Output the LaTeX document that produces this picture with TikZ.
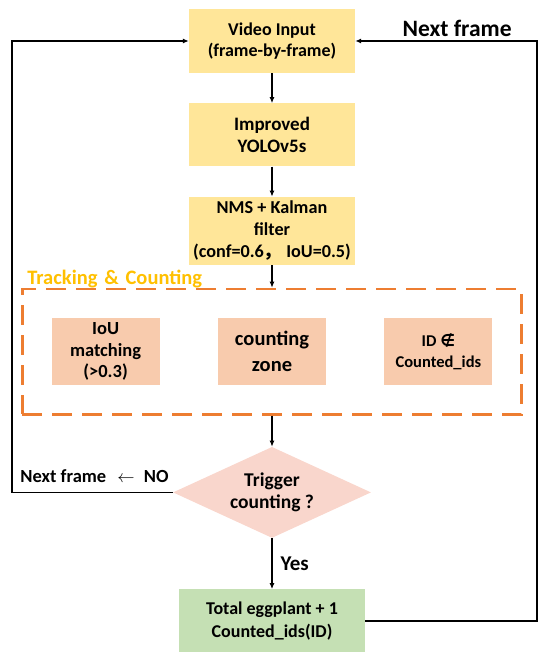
\documentclass[tikz,border=0pt]{standalone}
\usepackage{fontspec}
\setmainfont{Carlito}
\newfontfamily\cjkfont{Noto Sans CJK SC}
\newfontfamily\symbfont{DejaVu Sans}
\usepackage{xcolor}
\definecolor{egyellow}{HTML}{FFE699}
\definecolor{egpeach}{HTML}{F8CBAD}
\definecolor{egpink}{HTML}{F9D6CC}
\definecolor{eggreen}{HTML}{C5E0B4}
\definecolor{egorange}{HTML}{ED7D31}
\definecolor{eggold}{HTML}{FFC000}
\usepackage{tikz}
\usetikzlibrary{arrows.meta,positioning,shapes.geometric,fit}

\begin{document}
\begin{tikzpicture}[x=1pt, y=-1pt,
  block/.style={fill=egyellow, minimum width=166pt, minimum height=64pt,
                inner sep=2pt, align=center,
                font=\bfseries\fontsize{18}{21}\selectfont},
  subblock/.style={block, fill=egpeach, minimum width=108pt, minimum height=67pt},
  decide/.style={diamond, aspect=2.2, fill=egpink, minimum width=198pt,
                 minimum height=91pt, inner sep=0pt, align=center,
                 font=\bfseries\fontsize{19.5}{22}\selectfont},
  result/.style={block, fill=eggreen, minimum width=186pt, minimum height=63pt,
                 font=\bfseries\fontsize{18}{22.5}\selectfont},
  arr/.style={-{Latex[length=6pt,width=5pt]}, line width=1.1pt},
  back/.style={arr, line width=1.6pt},
  trackbox/.style={draw=egorange, line width=2.6pt, dash pattern=on 20pt off 10pt,
                   inner sep=29pt},
  lbl/.style={font=\bfseries\fontsize{18.5}{21}\selectfont},
  node distance=30pt and 58pt
]
  \useasboundingbox (0,0) rectangle (550,655);

  % main column
  \node[block] (video) at (272,41) {Video Input\\(frame-by-frame)};
  \node[block, below=of video, minimum height=63pt,
        font=\bfseries\fontsize{19}{22}\selectfont] (yolo) {Improved\\YOLOv5s};
  \node[block, below=of yolo, minimum height=68pt,
        font=\bfseries\fontsize{18.2}{22}\selectfont] (nms)
        {NMS + Kalman\\filter\\(conf=0.6{\cjkfont ，}\ IoU=0.5)};

  % tracking & counting group
  \node[subblock, below=53pt of nms, font=\bfseries\fontsize{20.5}{26}\selectfont] (zone)
        {counting\\zone};
  \node[subblock, left=of zone, font=\bfseries\fontsize{18.5}{21.5}\selectfont] (iou)
        {IoU\\matching\\(>0.3)};
  \node[subblock, right=of zone, font=\bfseries\fontsize{16.5}{21}\selectfont] (idset)
        {ID {\symbfont ∉}\\Counted\_ids};
  \node[trackbox, fit=(iou)(zone)(idset)] (track) {};
  \node[anchor=south west, inner sep=0pt, text=eggold,
        font=\bfseries\fontsize{20.5}{22}\selectfont] (tracklbl)
        at ([xshift=6pt]track.north west) {Tracking\,\,\&\,\,Counting};

  \node[decide, below=31pt of track] (trig) {Trigger\\counting ?};
  \node[result, below=51pt of trig] (total) {Total eggplant + 1\\Counted\_ids(ID)};

  \draw[arr] (video) -- (yolo);
  \draw[arr] (yolo) -- (nms);
  \draw[arr] (nms) -- (track);
  \draw[arr] (track) -- (trig);
  \draw[arr] (trig) -- node[right, inner sep=8pt,
        font=\bfseries\fontsize{21}{22}\selectfont] {Yes} (total);

  % feedback loops
  \draw[back] (total.east) -- ++(172,0) |- node[pos=0.72, above, inner sep=4pt,
        font=\bfseries\fontsize{23.5}{24}\selectfont] {Next frame} (video.east);
  \draw[back] (trig.west) -- ++(-161,0) |- (video.west);
  \node[lbl, anchor=south east, inner sep=0pt] (nolbl)
        at ([xshift=-4pt,yshift=10pt]trig.west)
        {Next frame\hspace{0.6em}$\leftarrow$\hspace{0.5em}NO};
\end{tikzpicture}
\end{document}
